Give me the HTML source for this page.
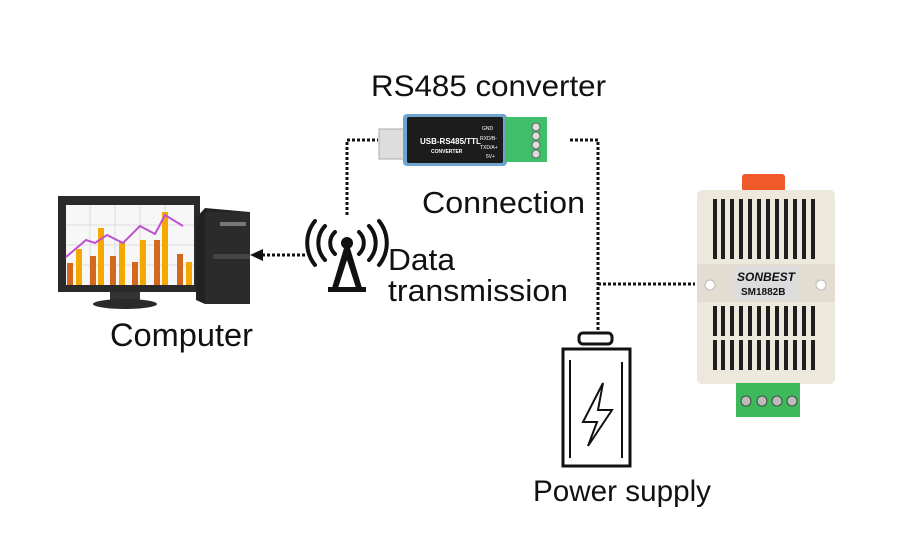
<!DOCTYPE html>
<html><head><meta charset="utf-8"><style>
html,body{margin:0;padding:0;background:#fff;}
svg{display:block;}
text{font-family:"Liberation Sans",sans-serif;fill:#111;}
</style></head><body>
<svg width="900" height="543" viewBox="0 0 900 543" xmlns="http://www.w3.org/2000/svg">
<rect width="900" height="543" fill="#fff"/>
<g stroke="#111" stroke-width="3" stroke-dasharray="3,2" fill="none">
<polyline points="347,215 347,140 378,140"/>
<polyline points="570,140 598,140 598,330"/>
<line x1="598" y1="284" x2="695" y2="284"/>
<line x1="305" y1="255" x2="262" y2="255"/>
</g>
<polygon points="250,255 263,249 263,261" fill="#111"/>
<rect x="58" y="196" width="142" height="96" fill="#2a2a2a"/>
<rect x="66" y="205" width="128" height="80" fill="#f7f7f7"/>
<g stroke="#ddd" stroke-width="1">
<line x1="66" y1="225" x2="194" y2="225"/><line x1="66" y1="245" x2="194" y2="245"/><line x1="66" y1="265" x2="194" y2="265"/>
<line x1="90" y1="205" x2="90" y2="285"/><line x1="115" y1="205" x2="115" y2="285"/><line x1="140" y1="205" x2="140" y2="285"/><line x1="165" y1="205" x2="165" y2="285"/>
</g>
<g fill="#d2691e"><rect x="67" y="263" width="6" height="22"/><rect x="90" y="256" width="6" height="29"/><rect x="110" y="256" width="6" height="29"/><rect x="132" y="262" width="6" height="23"/><rect x="154" y="240" width="6" height="45"/><rect x="177" y="254" width="6" height="31"/></g>
<g fill="#f5a800"><rect x="76" y="249" width="6" height="36"/><rect x="98" y="228" width="6" height="57"/><rect x="119" y="242" width="6" height="43"/><rect x="140" y="240" width="6" height="45"/><rect x="162" y="212" width="6" height="73"/><rect x="186" y="262" width="6" height="23"/></g>
<polyline points="66,257 86,240 95,243 107,235 123,243 140,226 155,234 165,215 183,226" fill="none" stroke="#c050d0" stroke-width="2"/>
<rect x="110" y="292" width="30" height="10" fill="#333"/>
<ellipse cx="125" cy="304" rx="32" ry="5" fill="#2a2a2a"/>
<polygon points="196,218 205,208 250,212 250,304 205,304 196,300" fill="#222"/>
<rect x="205" y="212" width="45" height="92" fill="#2b2b2b"/>
<rect x="220" y="222" width="26" height="4" fill="#777"/>
<rect x="213" y="254" width="37" height="5" fill="#444"/>
<text x="110" y="346" font-size="32" textLength="143" lengthAdjust="spacingAndGlyphs">Computer</text>
<g fill="none" stroke="#111" stroke-width="4" stroke-linecap="round">
<path d="M335,232 a15,15 0 0 0 0,22"/><path d="M359,232 a15,15 0 0 1 0,22"/>
<path d="M325,226 a25,25 0 0 0 0,34"/><path d="M369,226 a25,25 0 0 1 0,34"/>
<path d="M315,221 a35,35 0 0 0 0,44"/><path d="M379,221 a35,35 0 0 1 0,44"/>
</g>
<circle cx="347" cy="243" r="6" fill="#111"/>
<polygon points="344,248 350,248 362,288 356,288 347,260 338,288 332,288" fill="#111"/>
<rect x="328" y="287" width="38" height="5" fill="#111"/>
<text x="388" y="270" font-size="31" textLength="67" lengthAdjust="spacingAndGlyphs">Data</text>
<text x="388" y="301" font-size="31" textLength="180" lengthAdjust="spacingAndGlyphs">transmission</text>
<text x="371" y="96" font-size="30" textLength="235" lengthAdjust="spacingAndGlyphs">RS485 converter</text>
<rect x="379" y="129" width="26" height="30" fill="#ddd" stroke="#aaa"/>
<rect x="403" y="114" width="104" height="52" rx="4" fill="#6fa3d0"/>
<rect x="407" y="117" width="96" height="46" rx="2" fill="#1c1c1c"/>
<text x="420" y="144" font-size="8" font-weight="bold" style="fill:#fff">USB-RS485/TTL</text>
<text x="431" y="153" font-size="5" font-weight="bold" style="fill:#fff">CONVERTER</text>
<text x="482" y="130" font-size="5" style="fill:#fff">GND</text>
<text x="480" y="140" font-size="5" style="fill:#fff">RXD/B-</text>
<text x="480" y="149" font-size="5" style="fill:#fff">TXD/A+</text>
<text x="486" y="158" font-size="5" style="fill:#fff">5V+</text>
<rect x="505" y="117" width="42" height="45" fill="#3fbf6a"/>
<g fill="#ddd" stroke="#555" stroke-width="0.8"><circle cx="536" cy="127" r="4"/><circle cx="536" cy="136" r="4"/><circle cx="536" cy="145" r="4"/><circle cx="536" cy="154" r="4"/></g>
<text x="422" y="213" font-size="31" textLength="163" lengthAdjust="spacingAndGlyphs">Connection</text>
<rect x="579" y="333" width="33" height="11" rx="4" fill="none" stroke="#111" stroke-width="3"/>
<rect x="563" y="349" width="67" height="117" fill="none" stroke="#111" stroke-width="3"/>
<line x1="570" y1="360" x2="570" y2="458" stroke="#111" stroke-width="2"/>
<line x1="622" y1="362" x2="622" y2="458" stroke="#111" stroke-width="2"/>
<polygon points="603,383 583,422 597,422 588,446 612,410 598,410" fill="none" stroke="#111" stroke-width="2"/>
<text x="533" y="501" font-size="30" textLength="178" lengthAdjust="spacingAndGlyphs">Power supply</text>
<rect x="742" y="174" width="43" height="18" rx="3" fill="#f05a2a"/>
<rect x="697" y="190" width="138" height="194" rx="5" fill="#ece8dc"/>
<g fill="#1e1e1e">
<rect x="713" y="199" width="4" height="34"/><rect x="721" y="199" width="4" height="34"/><rect x="730" y="199" width="4" height="34"/><rect x="739" y="199" width="4" height="34"/><rect x="748" y="199" width="4" height="34"/><rect x="757" y="199" width="4" height="34"/><rect x="766" y="199" width="4" height="34"/><rect x="775" y="199" width="4" height="34"/><rect x="784" y="199" width="4" height="34"/><rect x="793" y="199" width="4" height="34"/><rect x="802" y="199" width="4" height="34"/><rect x="811" y="199" width="4" height="34"/>
<rect x="713" y="229" width="4" height="30"/><rect x="721" y="229" width="4" height="30"/><rect x="730" y="229" width="4" height="30"/><rect x="739" y="229" width="4" height="30"/><rect x="748" y="229" width="4" height="30"/><rect x="757" y="229" width="4" height="30"/><rect x="766" y="229" width="4" height="30"/><rect x="775" y="229" width="4" height="30"/><rect x="784" y="229" width="4" height="30"/><rect x="793" y="229" width="4" height="30"/><rect x="802" y="229" width="4" height="30"/><rect x="811" y="229" width="4" height="30"/>
<rect x="713" y="306" width="4" height="30"/><rect x="721" y="306" width="4" height="30"/><rect x="730" y="306" width="4" height="30"/><rect x="739" y="306" width="4" height="30"/><rect x="748" y="306" width="4" height="30"/><rect x="757" y="306" width="4" height="30"/><rect x="766" y="306" width="4" height="30"/><rect x="775" y="306" width="4" height="30"/><rect x="784" y="306" width="4" height="30"/><rect x="793" y="306" width="4" height="30"/><rect x="802" y="306" width="4" height="30"/><rect x="811" y="306" width="4" height="30"/>
<rect x="713" y="340" width="4" height="30"/><rect x="721" y="340" width="4" height="30"/><rect x="730" y="340" width="4" height="30"/><rect x="739" y="340" width="4" height="30"/><rect x="748" y="340" width="4" height="30"/><rect x="757" y="340" width="4" height="30"/><rect x="766" y="340" width="4" height="30"/><rect x="775" y="340" width="4" height="30"/><rect x="784" y="340" width="4" height="30"/><rect x="793" y="340" width="4" height="30"/><rect x="802" y="340" width="4" height="30"/><rect x="811" y="340" width="4" height="30"/>
</g>
<rect x="697" y="264" width="138" height="38" fill="#e2ddd0"/>
<circle cx="710" cy="285" r="5" fill="#fff" stroke="#bbb"/>
<circle cx="821" cy="285" r="5" fill="#fff" stroke="#bbb"/>
<rect x="733" y="266" width="65" height="34" fill="#dcdcdc"/>
<text x="737" y="281" font-size="12" font-weight="bold" font-style="italic" fill="#222">SONBEST</text>
<text x="741" y="295" font-size="10" font-weight="bold" fill="#222">SM1882B</text>
<rect x="736" y="383" width="64" height="34" fill="#3cb95a"/>
<g fill="#bbb" stroke="#333" stroke-width="0.8"><circle cx="746" cy="401" r="5"/><circle cx="762" cy="401" r="5"/><circle cx="777" cy="401" r="5"/><circle cx="792" cy="401" r="5"/></g>
</svg>
</body></html>
